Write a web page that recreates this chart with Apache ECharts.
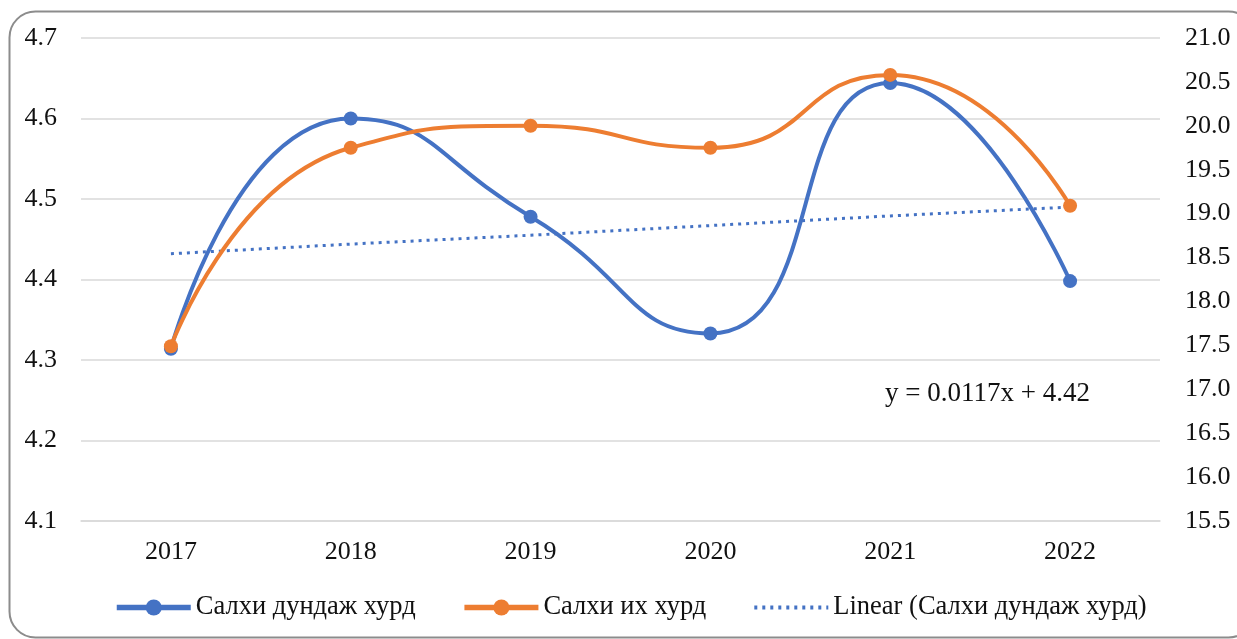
<!DOCTYPE html>
<html>
<head>
<meta charset="utf-8">
<script src="https://cdn.jsdelivr.net/npm/echarts@6/dist/echarts.min.js"></script>
<style>html,body{margin:0;padding:0;background:#fff}#c{width:1237px;height:639px}</style>
</head>
<body>
<div id="c"></div>
<script>
const years = ['2017','2018','2019','2020','2021','2022'];
const avgSpeed = [4.314, 4.600, 4.478, 4.333, 4.644, 4.398];
const maxSpeed = [17.49, 19.75, 20.00, 19.75, 20.58, 19.09];
const trendAvg = [4.432, 4.444, 4.455, 4.467, 4.479, 4.490];
const nameAvg = 'Салхи дундаж хурд';
const nameMax = 'Салхи их хурд';
const nameTrend = 'Linear (Салхи дундаж хурд)';
const equation = 'y = 0.0117x + 4.42';

const FONT = '"Liberation Serif", "Times New Roman", serif';
const chart = echarts.init(document.getElementById('c'), null, {renderer: 'canvas'});
chart.setOption({
  animation: false,
  backgroundColor: '#fff',
  textStyle: {fontFamily: FONT},
  graphic: [
    {type: 'rect', left: 7, top: 9, shape: {width: 1245, height: 626, r: 26},
     style: {fill: 'none', stroke: '#8c8c8c', lineWidth: 2}, z: -1},
    {type: 'text', left: 885, top: 380, style: {text: equation, font: '27px ' + FONT, fill: '#111'}}
  ],
  grid: {left: 81, right: 77, top: 38, bottom: 118},
  legend: {
    bottom: 13, left: 109, itemGap: 46, itemWidth: 74, itemHeight: 20,
    textStyle: {fontFamily: FONT, fontSize: 26.5, color: '#111'},
    data: [
      {name: nameAvg, lineStyle: {width: 5.5}},
      {name: nameMax, lineStyle: {width: 5.5}},
      {name: nameTrend, itemStyle: {opacity: 0}, lineStyle: {width: 4}}
    ]
  },
  xAxis: {
    type: 'category', data: years, boundaryGap: true,
    axisLine: {show: true, lineStyle: {color: '#d9d9d9', width: 1.5}},
    axisTick: {show: false},
    axisLabel: {fontFamily: FONT, fontSize: 26, color: '#111', margin: 18}
  },
  yAxis: [
    {type: 'value', min: 4.1, max: 4.7, interval: 0.1, position: 'left',
     axisLine: {show: false}, axisTick: {show: false},
     splitLine: {lineStyle: {color: '#d9d9d9', width: 1.5}},
     axisLabel: {fontFamily: FONT, fontSize: 26, color: '#111', margin: 24, formatter: v => v.toFixed(1)}},
    {type: 'value', min: 15.5, max: 21, interval: 0.5, position: 'right',
     axisLine: {show: false}, axisTick: {show: false}, splitLine: {show: false},
     axisLabel: {fontFamily: FONT, fontSize: 26, color: '#111', margin: 25, formatter: v => v.toFixed(1)}}
  ],
  series: [
    {name: nameAvg, type: 'line', yAxisIndex: 0, data: avgSpeed, smooth: 0.55,
     symbol: 'circle', symbolSize: 14,
     lineStyle: {color: '#4472c4', width: 4}, itemStyle: {color: '#4472c4'}, z: 3},
    {name: nameMax, type: 'line', yAxisIndex: 1, data: maxSpeed, smooth: 0.55,
     symbol: 'circle', symbolSize: 14,
     lineStyle: {color: '#ed7d31', width: 4}, itemStyle: {color: '#ed7d31'}, z: 4},
    {name: nameTrend, type: 'line', yAxisIndex: 0, data: trendAvg, smooth: false,
     symbol: 'none', lineStyle: {color: '#4472c4', width: 3, type: [3, 5]},
     itemStyle: {color: '#4472c4'}, z: 2}
  ]
});
</script>
</body>
</html>
